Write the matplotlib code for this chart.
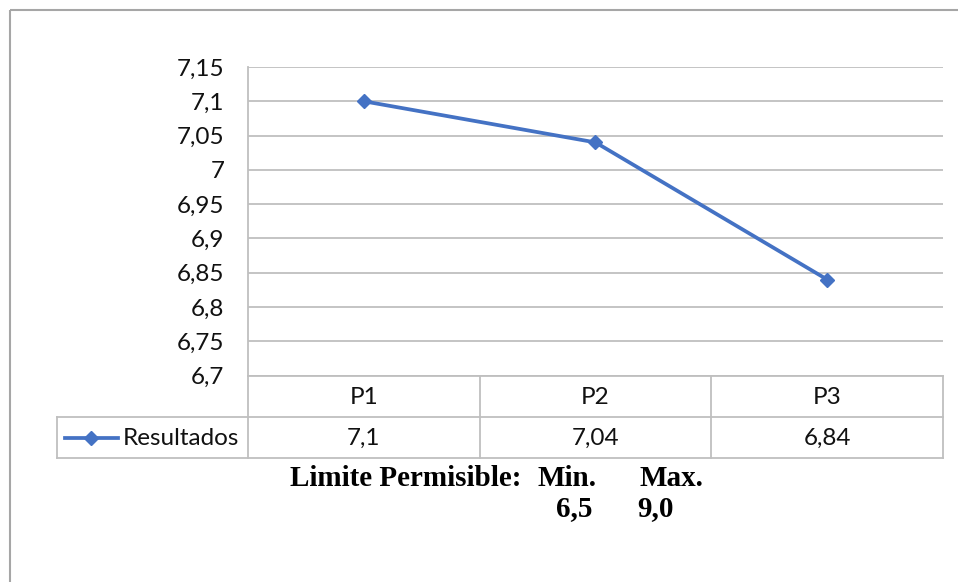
import matplotlib
matplotlib.use("Agg")
import matplotlib.pyplot as plt
from matplotlib.lines import Line2D

categories = ["P1", "P2", "P3"]
values = [7.10, 7.04, 6.84]
value_labels = ["7,1", "7,04", "6,84"]
series_name = "Resultados"
yticks = [6.7, 6.75, 6.8, 6.85, 6.9, 6.95, 7.0, 7.05, 7.1, 7.15]
ytick_labels = ["6,7", "6,75", "6,8", "6,85", "6,9", "6,95", "7", "7,05", "7,1", "7,15"]
limit_title = "Limite Permisible:"
limit_heads = ["Min.", "Max."]
limit_vals = ["6,5", "9,0"]

W, H = 958, 582
LINE_C = "#4472C4"
GRID_C = "#BFBFBF"
BORDER_C = "#A6A6A6"
FONT = ["Lato", "DejaVu Sans"]
FS = 17.5

fig = plt.figure(figsize=(W / 100, H / 100), dpi=100)
fig.patch.set_facecolor("white")

# plot area in pixels
L, R, T, B = 248, 943, 67, 375.5
ax = fig.add_axes([L / W, 1 - B / H, (R - L) / W, (B - T) / H])
n = len(categories)
x = list(range(n))
ax.plot(x, values, color=LINE_C, lw=2.7, marker="D", ms=7, zorder=3)
ax.set_xlim(-0.5, n - 0.5)
ax.set_ylim(6.7, 7.15)
ax.set_yticks(yticks)
ax.set_yticklabels(ytick_labels, fontsize=FS, family=FONT, color="#111111")
ax.set_xticks([])
ax.yaxis.grid(True, color=GRID_C, lw=1.3)
ax.set_axisbelow(True)
ax.tick_params(axis="y", length=0, pad=17)
for s in ["top", "right", "bottom"]:
    ax.spines[s].set_visible(False)
ax.spines["left"].set_color(GRID_C)
ax.spines["left"].set_linewidth(1.3)

# overlay in pixel coordinates
ov = fig.add_axes([0, 0, 1, 1], zorder=5)
ov.set_xlim(0, W)
ov.set_ylim(H, 0)
ov.axis("off")
ov.patch.set_alpha(0)

# outer frame
ov.plot([10, 10], [10, H], color=BORDER_C, lw=1.5, solid_capstyle="butt")
ov.plot([10, W], [10, 10], color=BORDER_C, lw=1.5, solid_capstyle="butt")

# data table
row1_top, row1_bot, row2_bot = 375.5, 417, 458
leg_left = 57
col_edges = [L + (R - L) * i / n for i in range(n + 1)]
tc = GRID_C
ov.plot([L, R], [row1_top, row1_top], color=tc, lw=1.3)
ov.plot([leg_left, R], [row1_bot, row1_bot], color=tc, lw=1.3)
ov.plot([leg_left, R], [row2_bot, row2_bot], color=tc, lw=1.3)
for i, cx in enumerate(col_edges):
    ov.plot([cx, cx], [row1_top, row2_bot], color=tc, lw=1.3)
ov.plot([leg_left, leg_left], [row1_bot, row2_bot], color=tc, lw=1.3)

for i, (cat, vl) in enumerate(zip(categories, value_labels)):
    cx = (col_edges[i] + col_edges[i + 1]) / 2
    ov.text(cx, (row1_top + row1_bot) / 2 + 1, cat, ha="center", va="center",
            fontsize=FS, family=FONT, color="#111111")
    ov.text(cx, (row1_bot + row2_bot) / 2 + 1, vl, ha="center", va="center",
            fontsize=FS, family=FONT, color="#111111")

# legend key in table
ym = (row1_bot + row2_bot) / 2
ov.add_line(Line2D([65, 118], [ym, ym], color=LINE_C, lw=2.7))
ov.add_line(Line2D([91.5], [ym], color=LINE_C, marker="D", ms=7, lw=0))
ov.text(123, ym + 1, series_name, ha="left", va="center", fontsize=FS,
        family=FONT, color="#111111")

# limits text
serif = ["Liberation Serif", "DejaVu Serif"]
SFS = 21
ov.text(290, 486, limit_title, ha="left", va="baseline", fontsize=SFS,
        family=serif, weight="bold")
ov.text(538, 486, limit_heads[0], ha="left", va="baseline", fontsize=SFS,
        family=serif, weight="bold")
ov.text(640, 486, limit_heads[1], ha="left", va="baseline", fontsize=SFS,
        family=serif, weight="bold")
ov.text(556, 516, limit_vals[0], ha="left", va="baseline", fontsize=SFS,
        family=serif, weight="bold")
ov.text(637, 516, limit_vals[1], ha="left", va="baseline", fontsize=SFS,
        family=serif, weight="bold")

fig.savefig("out.png", dpi=100)
